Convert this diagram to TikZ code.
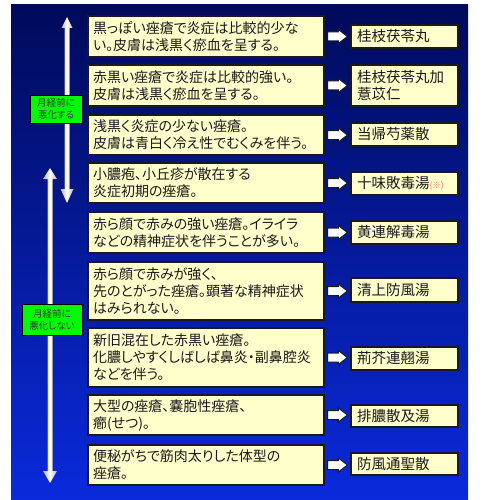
\documentclass[tikz,border=0pt]{standalone}
\usepackage{fontspec}
\newfontfamily\jp[RawFeature=+palt]{Noto Sans CJK JP}
\usetikzlibrary{calc}
\definecolor{boxfill}{RGB}{255,255,204}
\definecolor{boxline}{RGB}{25,25,35}
\definecolor{bgtop}{RGB}{0,10,90}
\definecolor{bgbot}{RGB}{10,42,220}
\definecolor{lblgreen}{RGB}{0,250,0}
\definecolor{notecol}{RGB}{255,110,110}
\begin{document}
\begin{tikzpicture}[x=1pt,y=-1pt,
  lbox/.style={draw=boxline, line width=1.2pt, fill=boxfill, text width=226pt, align=left,
    inner xsep=5pt, inner ysep=0pt, font=\jp\fontsize{14}{17}\selectfont, text=black!90, anchor=center},
  rbox/.style={draw=boxline, line width=1.2pt, fill=boxfill, text width=95pt, align=left,
    inner xsep=6pt, inner ysep=0pt, font=\jp\fontsize{14.5}{17}\selectfont, text=black!90, anchor=center},
  glabel/.style={draw=black, line width=0.8pt, fill=lblgreen, align=center,
    font=\jp\fontsize{9.5}{12}\selectfont, text=black!80, inner sep=0pt, anchor=center},
  blockarrow/.style={draw=boxline, line width=1pt, fill=white},
  varrow/.style={left color=gray!60, right color=gray!60, middle color=white, draw=none}
]
\useasboundingbox (0,0) rectangle (497,500);
\fill[white] (0,0) rectangle (497,500);
\shade[top color=bgtop, bottom color=bgbot] (11,5) rectangle (468,500);

% vertical arrows
\coordinate (u1) at (67,17);
\coordinate (d1) at (67,203);
\coordinate (u2) at (50,168);
\coordinate (d2) at (50,483);
\fill[varrow] (u1) -- ($(u1)+(5.5,11)$) -- ($(u1)+(2.5,11)$) -- ($(d1)+(2.5,-14)$) -- ($(d1)+(6.5,-14)$)
  -- (d1) -- ($(d1)+(-6.5,-14)$) -- ($(d1)+(-2.5,-14)$) -- ($(u1)+(-2.5,11)$) -- ($(u1)+(-5.5,11)$) -- cycle;
\fill[varrow] (u2) -- ($(u2)+(7,11)$) -- ($(u2)+(2.5,11)$) -- ($(d2)+(2.5,-12)$) -- ($(d2)+(7,-12)$)
  -- (d2) -- ($(d2)+(-7,-12)$) -- ($(d2)+(-2.5,-12)$) -- ($(u2)+(-2.5,11)$) -- ($(u2)+(-7,11)$) -- cycle;

% green labels
\node[glabel, minimum width=52pt, minimum height=28pt] (g1) at (56,109) {月経前に\\悪化する};
\node[glabel, minimum width=60pt, minimum height=31pt] (g2) at (52,319.5) {月経前に\\悪化しない};

% left boxes
\node[lbox, minimum height=41pt] (L1) at (206,36.5) {黒っぽい痤瘡で炎症は比較的少な\\い。皮膚は浅黒く瘀血を呈する。};
\node[lbox, minimum height=41pt] (L2) at (206,85.5) {赤黒い痤瘡で炎症は比較的強い。\\皮膚は浅黒く瘀血を呈する。};
\node[lbox, minimum height=40pt] (L3) at (206,135) {浅黒く炎症の少ない痤瘡。\\皮膚は青白く冷え性でむくみを伴う。};
\node[lbox, minimum height=40pt] (L4) at (206,183) {小膿疱、小丘疹が散在する\\炎症初期の痤瘡。};
\node[lbox, minimum height=41pt] (L5) at (206,232.5) {赤ら顔で赤みの強い痤瘡。イライラ\\などの精神症状を伴うことが多い。};
\node[lbox, minimum height=58pt] (L6) at (206,291) {赤ら顔で赤みが強く、\\先のとがった痤瘡。顕著な精神症状\\はみられない。};
\node[lbox, minimum height=59pt] (L7) at (206,357.5) {新旧混在した赤黒い痤瘡。\\化膿しやすくしばしば鼻炎・副鼻腔炎\\などを伴う。};
\node[lbox, minimum height=40pt] (L8) at (206,415) {大型の痤瘡、嚢胞性痤瘡、\\癤(せつ)。};
\node[lbox, minimum height=40pt] (L9) at (206,465) {便秘がちで筋肉太りした体型の\\痤瘡。};

% right boxes
\node[rbox, minimum height=23pt] (R1) at (404.5,36.5) {桂枝茯苓丸};
\node[rbox, minimum height=41pt] (R2) at (404.5,85.5) {桂枝茯苓丸加\\薏苡仁};
\node[rbox, minimum height=23pt] (R3) at (404.5,134.5) {当帰芍薬散};
\node[rbox, minimum height=23pt] (R4) at (404.5,183.5) {十味敗毒湯{\fontsize{8.5}{9}\selectfont\color{notecol}(※)}};
\node[rbox, minimum height=23pt] (R5) at (404.5,232.5) {黄連解毒湯};
\node[rbox, minimum height=24pt] (R6) at (404.5,290) {清上防風湯};
\node[rbox, minimum height=23pt] (R7) at (404.5,358.5) {荊芥連翹湯};
\node[rbox, minimum height=22pt] (R8) at (404.5,416) {排膿散及湯};
\node[rbox, minimum height=22pt] (R9) at (404.5,464) {防風通聖散};

% block arrows
\foreach \i in {1,...,9}{
  \draw[blockarrow] ($(L\i.east)+(3,-4.5)$) -- ($(R\i.west |- L\i.east)+(-12,-4.5)$) -- ($(R\i.west |- L\i.east)+(-12,-7)$)
    -- ($(R\i.west |- L\i.east)+(-3,0)$) -- ($(R\i.west |- L\i.east)+(-12,7)$) -- ($(R\i.west |- L\i.east)+(-12,4.5)$)
    -- ($(L\i.east)+(3,4.5)$) -- cycle;
}
\end{tikzpicture}
\end{document}
